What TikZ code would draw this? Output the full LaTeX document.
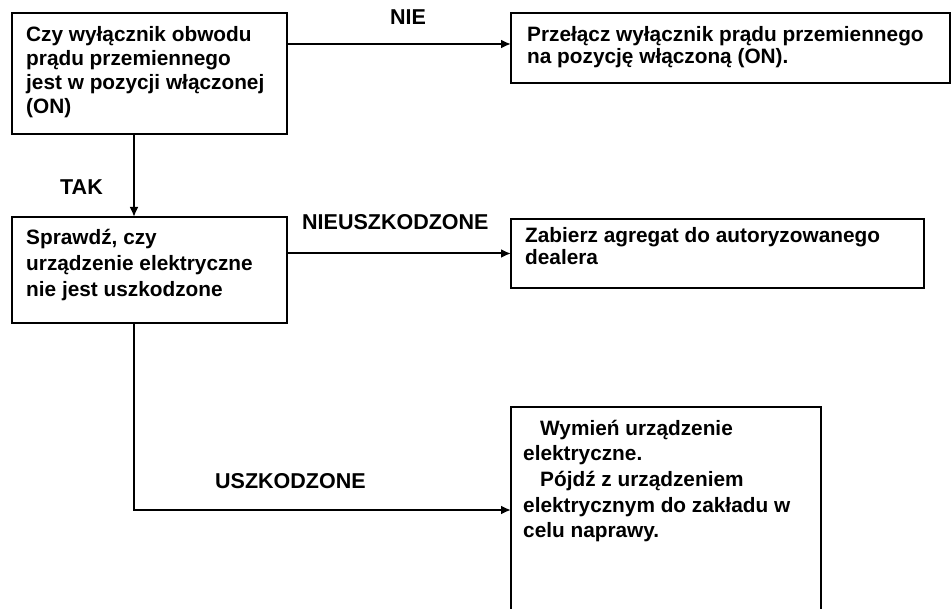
\documentclass[tikz,border=0pt]{standalone}
\usepackage{fontspec}
\setmainfont{Liberation Sans}
\usetikzlibrary{arrows.meta}
\tikzset{
  box/.style={draw, line width=1.8pt, rectangle, inner sep=0pt, outer sep=0pt, anchor=north west},
  txt/.style={anchor=base west, inner sep=0pt, font=\bfseries\fontsize{20.8}{24}\selectfont},
  lbl/.style={anchor=base west, inner sep=0pt, font=\bfseries\fontsize{21.5}{24}\selectfont},
  arr/.style={line width=2pt, -{Latex[length=10pt,width=9pt]}},
  conn/.style={line width=2pt}
}
\newcommand{\mylines}[2]{\vtop{\baselineskip=#1\relax #2}}
\begin{document}
\begin{tikzpicture}[x=1pt,y=-1pt]
\useasboundingbox (0,0) rectangle (952,609);
\clip (0,0) rectangle (952,609);
\fill[white] (0,0) rectangle (952,609);
% boxes
\node[box, minimum width=275pt, minimum height=121pt] (A) at (12,13) {};
\node[box, minimum width=439pt, minimum height=70pt] (B) at (511,13) {};
\node[box, minimum width=275pt, minimum height=106pt] (C) at (12,217) {};
\node[box, minimum width=413pt, minimum height=69pt] (D) at (511,219) {};
\node[box, minimum width=310pt, minimum height=260pt] (E) at (511,407) {};
% texts
\node[txt] (tA) at (26,42) {\mylines{24pt}{\hbox{Czy wyłącznik obwodu}\hbox{prądu przemiennego}\hbox{jest w pozycji włączonej}\hbox{(ON)}}};
\node[txt] (tB) at (527,42) {\mylines{22pt}{\hbox{Przełącz wyłącznik prądu przemiennego}\hbox{na pozycję włączoną (ON).}}};
\node[txt] (tC) at (26,245) {\mylines{26pt}{\hbox{Sprawdź, czy}\hbox{urządzenie elektryczne}\hbox{nie jest uszkodzone}}};
\node[txt] (tD) at (525,243) {\mylines{22pt}{\hbox{Zabierz agregat do autoryzowanego}\hbox{dealera}}};
\node[txt] (tE) at (523,435) {\mylines{25.7pt}{\hbox{\hspace{17pt}Wymień urządzenie}\hbox{elektryczne.}\hbox{\hspace{17pt}Pójdź z urządzeniem}\hbox{elektrycznym do zakładu w}\hbox{celu naprawy.}}};
% labels
\node[lbl] (lNIE) at (390,25) {NIE};
\node[lbl] (lTAK) at (60,195) {TAK};
\node[lbl] (lNU) at (302,230) {NIEUSZKODZONE};
\node[lbl] (lU) at (215,488) {USZKODZONE};
% connectors
\draw[arr] (A.east |- 0,44) -- (B.west |- 0,44);
\draw[arr] ([xshift=122pt]A.south west) -- ([xshift=122pt]C.north west);
\draw[arr] (D.west -| C.east) -- (D.west);
\draw[arr] ([xshift=122pt]C.south west) |- ([yshift=-103pt]E.north west);
\end{tikzpicture}
\end{document}
